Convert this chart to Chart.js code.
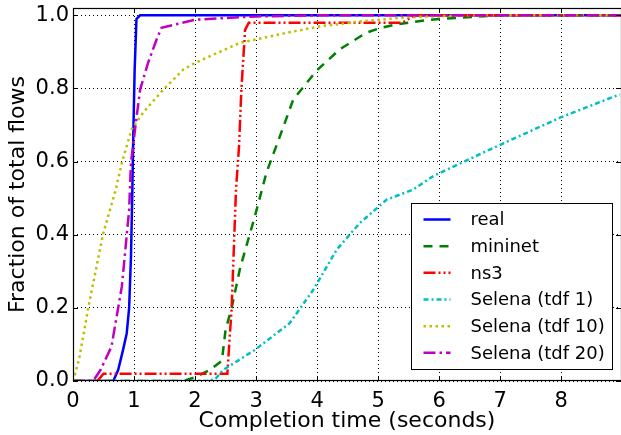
<!DOCTYPE html>
<html>
<head>
<meta charset="utf-8">
<script src="https://cdn.jsdelivr.net/npm/chart.js@4/dist/chart.umd.min.js"></script>
<style>
html,body{margin:0;padding:0;background:#fff;}
#wrap{width:621px;height:435px;position:relative;}
</style>
</head>
<body>
<div id="wrap"><canvas id="c"></canvas></div>
<script>
// ---- data ----
const seriesNames = ["real", "mininet", "ns3", "Selena (tdf 1)", "Selena (tdf 10)", "Selena (tdf 20)"];

const realX = [0, 0.66, 0.74, 0.82, 0.88, 0.92, 0.95, 0.97, 0.99, 1.01, 1.04, 1.1, 9];
const realY = [0, 0, 0.03, 0.085, 0.13, 0.2, 0.34, 0.5, 0.69, 0.85, 0.99, 1.0, 1.0];

const mininetX = [0, 1.8, 2.0, 2.24, 2.44, 2.5, 2.6, 2.74, 2.98, 3.17, 3.37, 3.61, 4.0, 4.37, 4.8, 5.05, 5.3, 5.5, 5.75, 6.0, 6.3, 7.0, 9];
const mininetY = [0, 0, 0.01, 0.03, 0.055, 0.14, 0.2, 0.31, 0.45, 0.57, 0.66, 0.77, 0.85, 0.907, 0.952, 0.966, 0.975, 0.98, 0.986, 0.99, 0.993, 1.0, 1.0];

const ns3X = [0, 0.4, 0.5, 2.53, 2.56, 2.6, 2.67, 2.72, 2.76, 2.82, 2.88, 5.4, 5.6, 9];
const ns3Y = [0, 0, 0.02, 0.02, 0.1, 0.2, 0.52, 0.64, 0.8, 0.96, 0.98, 0.98, 1.0, 1.0];

const tdf1X = [0, 2.2, 2.33, 2.46, 2.98, 3.55, 3.94, 4.32, 4.7, 5.14, 5.57, 5.9, 6.83, 7.98, 8.96];
const tdf1Y = [0, 0, 0.005, 0.03, 0.085, 0.158, 0.25, 0.359, 0.432, 0.496, 0.523, 0.56, 0.633, 0.72, 0.784];

const tdf10X = [0, 0.1, 0.25, 0.49, 0.7, 0.8, 0.96, 1.15, 1.48, 1.81, 2.0, 2.74, 3.5, 4.05, 4.75, 5.5, 6.5, 9];
const tdf10Y = [0, 0.06, 0.2, 0.4, 0.523, 0.596, 0.688, 0.734, 0.797, 0.852, 0.87, 0.925, 0.952, 0.97, 0.984, 0.995, 1.0, 1.0];

const tdf20X = [0, 0.33, 0.45, 0.63, 0.8, 0.92, 0.95, 1.03, 1.1, 1.23, 1.37, 1.45, 2.0, 3.0, 4.0, 9];
const tdf20Y = [0, 0, 0.03, 0.094, 0.258, 0.468, 0.597, 0.706, 0.797, 0.87, 0.934, 0.966, 0.988, 0.997, 1.0, 1.0];

const xTicks = [0, 1, 2, 3, 4, 5, 6, 7, 8];
const yTicks = [0, 0.2, 0.4, 0.6, 0.8, 1.0];
const yTickLabels = ["0.0", "0.2", "0.4", "0.6", "0.8", "1.0"];

// ---- styling ----
const FONT = "'DejaVu Sans', sans-serif";
const styles = [
  {color: '#0000ff', dash: []},
  {color: '#008000', dash: [9, 7]},
  {color: '#ff0000', dash: [12, 3, 2, 3, 2, 3]},
  {color: '#00bfbf', dash: [5, 3, 2, 3]},
  {color: '#bfbf00', dash: [2.5, 3.5]},
  {color: '#bf00bf', dash: [12, 4, 2.5, 4]}
];

function pts(xs, ys) { return xs.map((x, i) => ({x: x, y: ys[i]})); }
const seriesData = [
  pts(realX, realY), pts(mininetX, mininetY), pts(ns3X, ns3Y),
  pts(tdf1X, tdf1Y), pts(tdf10X, tdf10Y), pts(tdf20X, tdf20Y)
];

const datasets = seriesNames.map((name, i) => ({
  label: name,
  data: seriesData[i],
  borderColor: styles[i].color,
  backgroundColor: styles[i].color,
  borderDash: styles[i].dash,
  borderWidth: 2.5,
  pointRadius: 0,
  tension: 0,
  fill: false,
  order: seriesNames.length - i
}));

const framePlugin = {
  id: 'frameTicks',
  afterDraw(chart) {
    const ctx = chart.ctx, a = chart.chartArea;
    const xs = chart.scales.x, ys = chart.scales.y;
    ctx.save();
    ctx.strokeStyle = '#000';
    ctx.lineWidth = 1;
    ctx.setLineDash([]);
    // inward ticks
    ctx.beginPath();
    xTicks.forEach(v => {
      const px = Math.round(xs.getPixelForValue(v)) + 0.5;
      ctx.moveTo(px, a.bottom); ctx.lineTo(px, a.bottom - 5);
      ctx.moveTo(px, a.top); ctx.lineTo(px, a.top + 5);
    });
    yTicks.forEach(v => {
      const py = Math.round(ys.getPixelForValue(v)) + 0.5;
      ctx.moveTo(a.left, py); ctx.lineTo(a.left + 5, py);
      ctx.moveTo(a.right, py); ctx.lineTo(a.right - 5, py);
    });
    ctx.stroke();
    // frame
    ctx.lineWidth = 1.2;
    ctx.strokeRect(Math.round(a.left) + 0.5, Math.round(a.top) + 0.5, Math.round(a.right - a.left), Math.round(a.bottom - a.top) - 1);

    // legend
    const bx = a.right - 209.5, by = a.bottom - 177.5, bw = 201, bh = 166;
    ctx.fillStyle = '#fff';
    ctx.fillRect(bx, by, bw, bh);
    ctx.lineWidth = 1;
    ctx.strokeRect(bx, by, bw, bh);
    ctx.font = "18px " + FONT;
    ctx.textBaseline = 'middle';
    ctx.textAlign = 'left';
    chart.data.datasets.forEach((ds, i) => {
      const cy = by + 16 + i * 26.67;
      ctx.save();
      ctx.strokeStyle = ds.borderColor;
      ctx.lineWidth = ds.borderWidth;
      ctx.setLineDash(ds.borderDash);
      ctx.beginPath();
      ctx.moveTo(bx + 12, cy); ctx.lineTo(bx + 39, cy);
      ctx.stroke();
      ctx.restore();
      ctx.fillStyle = '#000';
      ctx.fillText(ds.label, bx + 59, cy + 1);
    });
    ctx.restore();
  }
};

new Chart(document.getElementById('c'), {
  type: 'line',
  data: {datasets: datasets},
  options: {
    responsive: true,
    maintainAspectRatio: false,
    animation: false,
    devicePixelRatio: 1,
    layout: {padding: {top: 8, right: 0, left: 0, bottom: 0}},
    plugins: {legend: {display: false}, tooltip: {enabled: false}},
    scales: {
      x: {
        type: 'linear',
        min: 0, max: 8.98,
        afterBuildTicks: s => { s.ticks = xTicks.map(v => ({value: v})); },
        afterFit: s => { s.height = 54; s.paddingLeft = 0; s.paddingRight = 0; s.paddingTop = 0; s.paddingBottom = 0; },
        ticks: {
          color: '#000', font: {family: FONT, size: 21}, padding: 8,
          maxRotation: 0, autoSkip: false,
          callback: v => String(v)
        },
        grid: {color: '#000', lineWidth: 1, drawTicks: false},
        border: {display: false, dash: [1, 3]},
        title: {
          display: true, text: 'Completion time (seconds)', color: '#000',
          font: {family: FONT, size: 22}, padding: {top: 0, bottom: 1}
        }
      },
      y: {
        type: 'linear',
        min: 0, max: 1.02,
        afterBuildTicks: s => { s.ticks = yTicks.map(v => ({value: v})); },
        afterFit: s => { s.width = 73; s.paddingLeft = 0; s.paddingRight = 0; s.paddingTop = 0; s.paddingBottom = 0; },
        ticks: {
          color: '#000', font: {family: FONT, size: 21}, padding: 4,
          autoSkip: false,
          callback: (v) => { const k = yTicks.findIndex(t => Math.abs(t - v) < 1e-9); return k >= 0 ? yTickLabels[k] : ''; }
        },
        grid: {color: '#000', lineWidth: 1, drawTicks: false},
        border: {display: false, dash: [1, 3]},
        title: {
          display: true, text: 'Fraction of total flows', color: '#000',
          font: {family: FONT, size: 22}, padding: {top: 5, bottom: 0}
        }
      }
    }
  },
  plugins: [framePlugin]
});
</script>
</body>
</html>
